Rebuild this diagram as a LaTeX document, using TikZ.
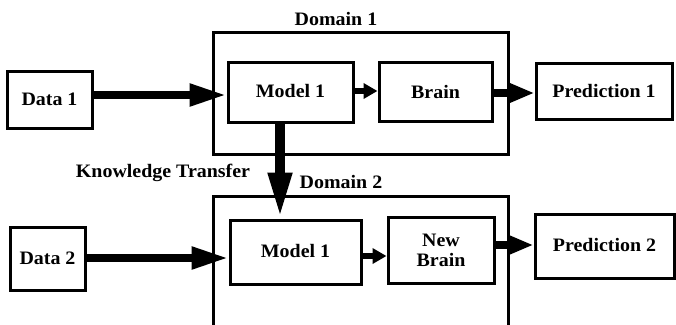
\documentclass[tikz,border=0pt]{standalone}
\usepackage{fontspec}
\setmainfont[FakeStretch=1.05]{Liberation Serif}
\usetikzlibrary{arrows.meta}
\begin{document}
\begin{tikzpicture}[x=1pt,y=-1pt,
  blk/.style={draw=black, line width=3pt, inner sep=0pt, font=\fontsize{19}{20}\selectfont\bfseries, align=center},
  dom/.style={draw=black, line width=3pt},
  lbl/.style={font=\fontsize{19}{20}\selectfont\bfseries, inner sep=0pt},
  bigarr/.style={line width=8pt, -{Triangle[length=37pt,width=21pt]}},
  midarr/.style={line width=8pt, -{Triangle[length=26pt,width=19pt]}},
  smallarr/.style={line width=6pt, -{Triangle[length=14pt,width=15pt]}},
  vertarr/.style={line width=10pt, -{Triangle[length=46pt,width=22pt]}}]
\useasboundingbox (0,0) rectangle (676,324);
\clip (0,0) rectangle (676,324);
\fill[white] (0,0) rectangle (676,324);
% domain boxes
\node[dom, minimum width=295pt, minimum height=122pt, inner sep=0pt] (dom1) at (360.5,93) {};
\draw[dom] (213,340) -- (213,196) -- (508,196) -- (508,340);
\coordinate (dom2top) at (360.5,196);
\node[lbl] (dom1lbl) at (336,19) {Domain 1};
\node[lbl] (dom2lbl) at (341,182) {Domain 2};
\node[lbl] (ktlbl) at (163,173) {Knowledge Transfer};
% row 1
\node[blk, minimum width=85pt, minimum height=57pt] (data1) at (49.5,99.5) {Data 1};
\node[blk, minimum width=125pt, minimum height=60pt] (model1) at (290.5,92) {\raisebox{2pt}{Model 1}};
\node[blk, minimum width=113pt, minimum height=59pt] (brain) at (435.5,91.5) {Brain};
\node[blk, minimum width=136pt, minimum height=56pt] (pred1) at (604,91) {Prediction 1};
% row 2
\node[blk, minimum width=75pt, minimum height=63pt] (data2) at (47.5,258.5) {Data 2};
\node[blk, minimum width=131pt, minimum height=64pt] (model2) at (295.5,252) {\raisebox{3pt}{Model 1}};
\node[blk, minimum width=106pt, minimum height=66pt] (newbrain) at (441,250) {New\\Brain};
\node[blk, minimum width=139pt, minimum height=64pt] (pred2) at (604.5,246) {\raisebox{2pt}{Prediction 2}};
% arrows row 1
\draw[bigarr] (data1.east |- 0,95) -- (model1.west |- 0,95);
\draw[smallarr] (model1.east |- 0,91) -- (brain.west |- 0,91);
\draw[midarr] (brain.east |- 0,93) -- (pred1.west |- 0,93);
% knowledge transfer
\draw[vertarr] (model1.south -| 280,0) -- (model2.north -| 280,0);
% arrows row 2
\draw[bigarr] (data2.east |- 0,258) -- (model2.west |- 0,258);
\draw[smallarr] (model2.east |- 0,256) -- (newbrain.west |- 0,256);
\draw[midarr] (newbrain.east |- 0,245) -- (pred2.west |- 0,245);
\end{tikzpicture}
\end{document}
